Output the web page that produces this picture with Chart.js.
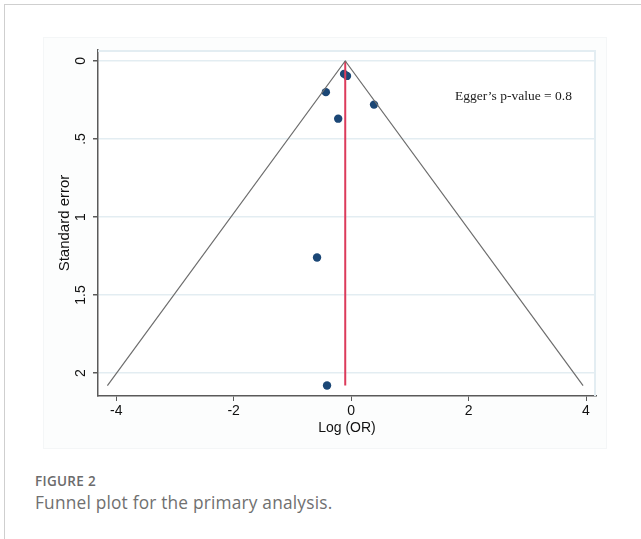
<!DOCTYPE html>
<html>
<head>
<meta charset="utf-8">
<script src="https://cdn.jsdelivr.net/npm/chart.js@4"></script>
<style>
  html, body { margin: 0; padding: 0; background: #fff; }
  body { width: 641px; height: 539px; position: relative; overflow: hidden; font-family: "Open Sans", "Noto Sans", sans-serif; }
  #frame { position: absolute; left: 4px; top: 4px; width: 640px; height: 540px; border-left: 1px solid #cfcfcf; border-top: 1px solid #cfcfcf; }
  #graph-bg { position: absolute; left: 43px; top: 37px; width: 562px; height: 410px; background: #fcfdfd; border: 1px solid #f4f6f7; }
  #wrap { position: absolute; left: 0; top: 0; width: 641px; height: 437px; }
  #fig-label { position: absolute; left: 35px; top: 472px; font-size: 13.5px; font-weight: 600; color: #6b6b6b; letter-spacing: 0.3px; }
  #fig-caption { position: absolute; left: 35px; top: 491px; font-size: 17.3px; color: #707070; letter-spacing: 0.2px; }
</style>
</head>
<body>
<div id="frame"></div>
<div id="graph-bg"></div>
<div id="wrap"><canvas id="funnel"></canvas></div>
<div id="fig-label">FIGURE 2</div>
<div id="fig-caption">Funnel plot for the primary analysis.</div>
<script>
// --- Data ---
const studyLogOR = [-0.12, -0.07, -0.43, 0.39, -0.22, -0.58, -0.41];
const studySE = [0.083, 0.096, 0.20, 0.28, 0.37, 1.26, 2.08];

// pseudo 95% CI limits and pooled estimate
const funnelX = [-4.15, -0.10, 3.95];
const funnelSE = [2.08, 0, 2.08];
const pooledX = [-0.10, -0.10];
const pooledSE = [0, 2.08];

const xTicks = [-4, -2, 0, 2, 4];
const yTicks = [0, 0.5, 1, 1.5, 2];
const eggerText = "Egger\u2019s p-value = 0.8";

const toPoints = (xs, ys) => xs.map((x, i) => ({ x: x, y: ys[i] }));

// white plot region with light blue outline + Egger's note
const plotDecor = {
    id: 'plotDecor',
    beforeDraw(chart) {
        const { ctx, chartArea: a } = chart;
        ctx.save();
        ctx.fillStyle = '#fff';
        ctx.fillRect(a.left, a.top, a.right - a.left, a.bottom - a.top);
        ctx.restore();
    },
    beforeDatasetsDraw(chart) {
        const { ctx, chartArea: a } = chart;
        ctx.save();
        ctx.strokeStyle = '#e3edf2';
        ctx.lineWidth = 2;
        ctx.beginPath();
        ctx.moveTo(a.left, a.top + 1);
        ctx.lineTo(a.right - 1, a.top + 1);
        ctx.lineTo(a.right - 1, a.bottom);
        ctx.stroke();
        ctx.restore();
    },
    afterDatasetsDraw(chart) {
        const { ctx, scales } = chart;
        ctx.save();
        ctx.font = '13.5px "Liberation Serif", "DejaVu Serif", serif';
        ctx.fillStyle = '#222';
        ctx.textBaseline = 'middle';
        ctx.fillText(eggerText, scales.x.getPixelForValue(1.77), scales.y.getPixelForValue(0.23));
        ctx.restore();
    }
};

const tickFont = { family: 'Liberation Sans, Arial, sans-serif', size: 14 };

const ctx = document.getElementById('funnel').getContext('2d');
new Chart(ctx, {
    type: 'scatter',
    data: {
        datasets: [
            {
                type: 'line',
                data: toPoints(funnelX, funnelSE),
                borderColor: '#6e6e6e',
                borderWidth: 1.2,
                pointRadius: 0,
                tension: 0
            },
            {
                type: 'line',
                data: toPoints(pooledX, pooledSE),
                borderColor: '#dc3b5b',
                borderWidth: 2,
                pointRadius: 0
            },
            {
                data: toPoints(studyLogOR, studySE),
                backgroundColor: '#1b4776',
                borderColor: '#1b4776',
                pointRadius: 4.2,
                borderWidth: 0
            }
        ]
    },
    options: {
        responsive: true,
        maintainAspectRatio: false,
        animation: false,
        layout: { padding: { top: 50, right: 45, left: 0, bottom: 0 } },
        plugins: { legend: { display: false }, tooltip: { enabled: false } },
        scales: {
            x: {
                type: 'linear',
                min: -4.31,
                max: 4.17,
                afterBuildTicks: s => { s.ticks = xTicks.map(v => ({ value: v })); },
                afterFit: s => { s.height = 41; },
                border: { color: '#5a5a5a', width: 1.5 },
                grid: { drawOnChartArea: false, tickLength: 5, tickColor: '#5a5a5a' },
                ticks: {
                    padding: 2,
                    color: '#111',
                    font: tickFont,
                    callback: v => String(v)
                },
                title: {
                    display: true,
                    text: 'Log (OR)',
                    color: '#111',
                    padding: { top: 0, bottom: 0 },
                    font: { family: 'Liberation Sans, Arial, sans-serif', size: 14 }
                }
            },
            y: {
                type: 'linear',
                reverse: true,
                min: -0.07,
                max: 2.147,
                afterBuildTicks: s => { s.ticks = yTicks.map(v => ({ value: v })); },
                afterFit: s => { s.width = 98; },
                border: { color: '#5a5a5a', width: 1.5 },
                grid: { color: '#e3edf2', lineWidth: 1.5, tickLength: 5, tickColor: '#5a5a5a' },
                ticks: {
                    minRotation: 90,
                    maxRotation: 90,
                    crossAlign: 'center',
                    padding: 2,
                    color: '#111',
                    font: tickFont,
                    callback: v => String(v).replace(/^0\./, '.')
                },
                title: {
                    display: true,
                    text: 'Standard error',
                    color: '#111',
                    padding: { top: 56, bottom: 0 },
                    font: { family: 'Liberation Sans, Arial, sans-serif', size: 15 }
                }
            }
        }
    },
    plugins: [plotDecor]
});
</script>
</body>
</html>
